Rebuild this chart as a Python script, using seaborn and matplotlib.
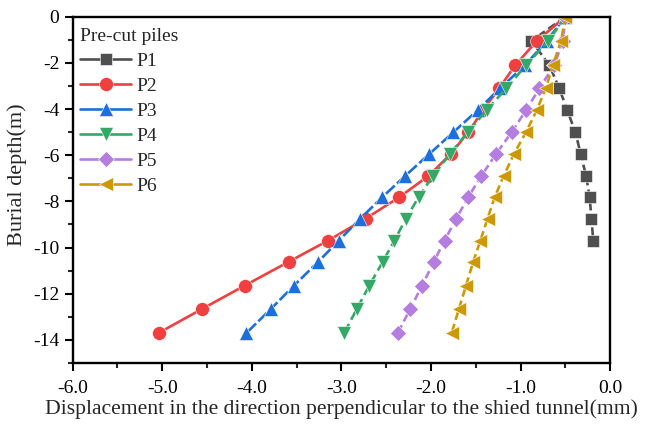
import matplotlib
matplotlib.use("Agg")
import matplotlib.pyplot as plt
from matplotlib.lines import Line2D
from matplotlib.ticker import MultipleLocator, FormatStrFormatter
import seaborn as sns
import pandas as pd

# ---- data ----
depth = [0, -1.05, -2.1, -3.1, -4.05, -5.0, -5.95, -6.9, -7.82, -8.75, -9.7,
         -10.62, -11.65, -12.67, -13.7]
p1 = [-0.5, -0.88, -0.68, -0.57, -0.48, -0.39, -0.33, -0.27, -0.23, -0.21, -0.19]
p2 = [-0.5, -0.82, -1.06, -1.24, -1.42, -1.585, -1.78, -2.03, -2.355, -2.73,
      -3.15, -3.59, -4.08, -4.56, -5.04]
p3 = [-0.5, -0.71, -0.95, -1.23, -1.48, -1.75, -2.02, -2.29, -2.545, -2.79,
      -3.03, -3.26, -3.53, -3.79, -4.06]
p4 = [-0.5, -0.69, -0.94, -1.16, -1.38, -1.59, -1.79, -1.98, -2.14, -2.28,
      -2.41, -2.54, -2.69, -2.83, -2.97]
p5 = [-0.5, -0.53, -0.625, -0.79, -0.94, -1.10, -1.275, -1.44, -1.585, -1.72,
      -1.85, -1.97, -2.10, -2.235, -2.37]
p6 = [-0.5, -0.55, -0.64, -0.72, -0.82, -0.94, -1.075, -1.19, -1.29, -1.37,
      -1.45, -1.53, -1.61, -1.69, -1.77]
names = ["P1", "P2", "P3", "P4", "P5", "P6"]
series = [p1, p2, p3, p4, p5, p6]

colors = ["#4f4f4f", "#ef3f3f", "#1c6fdc", "#33a867", "#b47ddf", "#cc9900"]
markers = ["s", "o", "^", "v", "D", "<"]
msizes = [8, 10, 10, 10, 8, 10]
styles = [(0, (3.2, 1.6)), "-", (0, (4.5, 1.2)), (0, (3.5, 1.8)), (0, (3, 1.6)), (0, (3, 1.6))]

sns.set_style("ticks")
plt.rcParams["font.family"] = ["Liberation Serif", "DejaVu Serif"]
plt.rcParams["axes.unicode_minus"] = False

fig = plt.figure(figsize=(6.46, 4.30), dpi=100)
ax = fig.add_axes([0.1125, 0.156, 0.8322, 0.8052])

for name, xs, c, m, ms, ls in zip(names, series, colors, markers, msizes, styles):
    df = pd.DataFrame({"x": xs, "y": depth[:len(xs)]})
    sns.lineplot(data=df, x="x", y="y", sort=False, estimator=None, ax=ax,
                 color=c, marker=m, markersize=ms, linestyle=ls, linewidth=1.9,
                 markeredgecolor="white", markeredgewidth=0.4, label=None)

ax.set_xlim(-6, 0)
ax.set_ylim(-15, 0)
ax.xaxis.set_major_locator(MultipleLocator(1))
ax.xaxis.set_minor_locator(MultipleLocator(0.5))
ax.xaxis.set_major_formatter(FormatStrFormatter("%.1f"))
ax.yaxis.set_major_locator(MultipleLocator(2))
ax.yaxis.set_minor_locator(MultipleLocator(1))
ax.yaxis.set_major_formatter(FormatStrFormatter("%d"))
ax.tick_params(which="major", direction="out", length=6, width=1.5, labelsize=14, colors="black")
ax.tick_params(which="minor", direction="out", length=3.5, width=1.5)
ax.tick_params(axis="x", pad=6)
for s in ax.spines.values():
    s.set_linewidth(1.7)
    s.set_edgecolor("black")
    s.set_visible(True)
    s.set_zorder(5)

ax.set_xlabel("Displacement in the direction perpendicular to the shied tunnel(mm)", fontsize=15.6, labelpad=2)
ax.set_ylabel("Burial depth(m)", fontsize=16)
ax.yaxis.set_label_coords(-0.085, 0.545)

handles = [Line2D([0], [0], color=c, marker=m, markersize=ms, linewidth=1.9,
                  markeredgecolor="white", markeredgewidth=0.4)
           for c, m, ms in zip(colors, markers, msizes)]
leg = ax.legend(handles, names, title="Pre-cut piles", loc="upper left",
                frameon=False, fontsize=14, title_fontsize=14, handlelength=2.6,
                handletextpad=0.3, labelspacing=0.38, borderaxespad=0.0,
                bbox_to_anchor=(0.0, 0.99))
leg._legend_box.align = "left"

fig.savefig("out.png", dpi=100)
